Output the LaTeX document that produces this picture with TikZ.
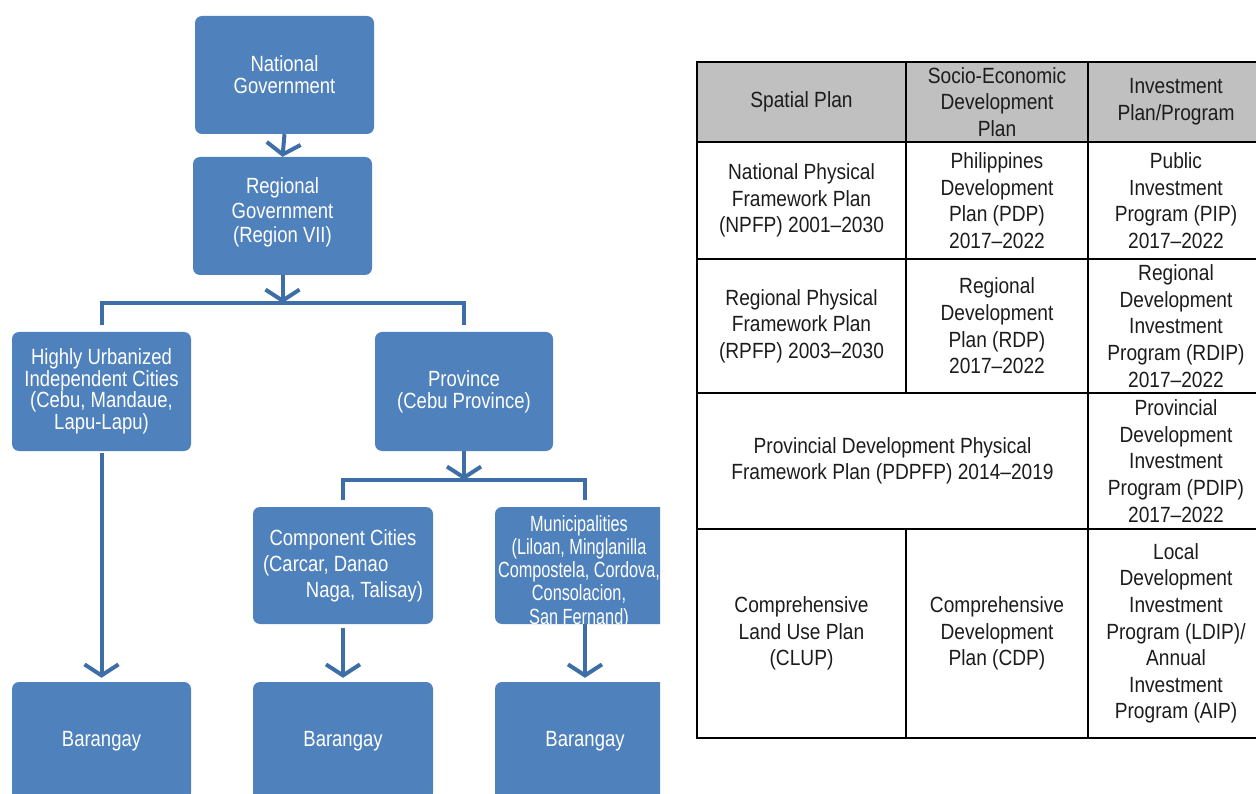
\documentclass[tikz,border=0pt]{standalone}
\usepackage{fontspec}
\usetikzlibrary{arrows.meta}
\newfontfamily\boxfont[FakeStretch=0.84]{Liberation Sans}
\newfontfamily\munfont[FakeStretch=0.74]{Liberation Sans}
\newfontfamily\tabfont[FakeStretch=0.87]{Liberation Sans}
\definecolor{boxblue}{RGB}{79,129,189}
\definecolor{linkblue}{RGB}{62,110,168}
\definecolor{headgray}{RGB}{192,192,192}
\definecolor{tabtext}{RGB}{28,28,28}
\tikzset{
  orgbox/.style={rectangle, rounded corners=7pt, fill=boxblue, text=white,
    inner sep=0pt, minimum width=179pt, minimum height=118pt, align=center,
    font=\boxfont\fontsize{22}{22}\selectfont},
  boxtext/.style={text=white, inner sep=0pt, align=center},
  link/.style={draw=linkblue, line width=4pt},
  linkarrow/.style={link, -{Straight Barb[length=11pt,width=34pt]}},
  cell/.style={align=center, text=tabtext, inner sep=0pt,
    font=\tabfont\fontsize{22}{26.6}\selectfont},
  rule/.style={line width=2.6pt, black},
}
\begin{document}
\begin{tikzpicture}[x=1pt, y=-1pt]
\useasboundingbox (0,0) rectangle (1256,794);
\clip (0,0) rectangle (1256,794);

% ---------- organisation chart ----------
\begin{scope}
\clip (0,0) rectangle (660,794);
\node[orgbox] (nat) at (284.5,75) {National\\Government};
\node[orgbox] (reg) at (282.5,216) {};
\node[boxtext, font=\boxfont\fontsize{22}{24.5}\selectfont] (regtext) at (282.5,212.5)
  {Regional\\Government\\(Region VII)};
\node[orgbox, minimum height=119pt, font=\boxfont\fontsize{22}{21.5}\selectfont] (huic) at (101.5,391.5)
  {Highly Urbanized\\Independent Cities\\(Cebu, Mandaue,\\Lapu-Lapu)};
\node[orgbox, minimum width=178pt, minimum height=119pt] (prov) at (464,391.5)
  {Province\\(Cebu Province)};
\node[orgbox, minimum width=180pt, minimum height=117pt, font=\boxfont\fontsize{22}{26}\selectfont] (cc) at (343,565.5)
  {Component Cities\\\makebox[160pt][l]{(Carcar, Danao}\\\makebox[160pt][r]{Naga, Talisay)}};
\node[orgbox, minimum width=180pt, minimum height=117pt] (mun) at (585,565.5) {};
\node[boxtext, font=\munfont\fontsize{22}{23.3}\selectfont] (muntext) at (579,572)
  {Municipalities\\(Liloan, Minglanilla\\Compostela, Cordova,\\Consolacion,\\San Fernand)};
\node[orgbox] (bar1) at (101.5,741) {Barangay};
\node[orgbox, minimum width=180pt] (bar2) at (343,741) {Barangay};
\node[orgbox, minimum width=180pt] (bar3) at (585,741) {Barangay};

\coordinate (fork1) at (282.5,303);
\coordinate (fork2) at (464,480);

\draw[linkarrow] (nat.south) -- (reg.north);
\draw[linkarrow] (reg.south) -- (fork1);
\draw[link] ([yshift=7pt]huic.north) -- (huic.north |- fork1)
  -- (prov.north |- fork1) -- ([yshift=7pt]prov.north);
\draw[linkarrow] (prov.south) -- (fork2);
\draw[link] ([yshift=7pt]cc.north) -- (cc.north |- fork2)
  -- (mun.north |- fork2) -- ([yshift=7pt]mun.north);
\draw[linkarrow] ([yshift=-2pt]huic.south) -- ([yshift=4pt]bar1.north);
\draw[linkarrow] ([yshift=-4pt]cc.south) -- ([yshift=4pt]bar2.north);
\draw[linkarrow] (mun.south) -- ([yshift=4pt]bar3.north);
\end{scope}

% ---------- planning table ----------
\fill[headgray] (697,62) rectangle (1262,142);
\draw[rule] (1262,62) -- (697,62) -- (697,738) -- (1262,738);
\draw[rule] (697,142) -- (1262,142);
\draw[rule] (697,259) -- (1262,259);
\draw[rule] (697,393) -- (1262,393);
\draw[rule] (697,529) -- (1262,529);
\draw[rule] (906,62) -- (906,393);
\draw[rule] (906,529) -- (906,738);
\draw[rule] (1088,62) -- (1088,738);

\node[cell] (h1) at (801.5,102) {Spatial Plan};
\node[cell] (h2) at (997,102) {Socio-Economic\\Development\\Plan};
\node[cell] (h3) at (1176,102) {Investment\\Plan/Program};

\node[cell] (a1) at (801.5,200.5) {National Physical\\Framework Plan\\(NPFP) 2001–2030};
\node[cell] (a2) at (997,200.5) {Philippines\\Development\\Plan (PDP)\\2017–2022};
\node[cell] (a3) at (1176,200.5) {Public\\Investment\\Program (PIP)\\2017–2022};

\node[cell] (b1) at (801.5,326) {Regional Physical\\Framework Plan\\(RPFP) 2003–2030};
\node[cell] (b2) at (997,326) {Regional\\Development\\Plan (RDP)\\2017–2022};
\node[cell] (b3) at (1176,326) {Regional\\Development\\Investment\\Program (RDIP)\\2017–2022};

\node[cell] (c12) at (892.5,461) {Provincial Development Physical\\Framework Plan (PDPFP) 2014–2019};
\node[cell] (c3) at (1176,461) {Provincial\\Development\\Investment\\Program (PDIP)\\2017–2022};

\node[cell] (d1) at (801.5,633.5) {Comprehensive\\Land Use Plan\\(CLUP)};
\node[cell] (d2) at (997,633.5) {Comprehensive\\Development\\Plan (CDP)};
\node[cell] (d3) at (1176,633.5) {Local\\Development\\Investment\\Program (LDIP)/\\Annual\\Investment\\Program (AIP)};
\end{tikzpicture}
\end{document}
